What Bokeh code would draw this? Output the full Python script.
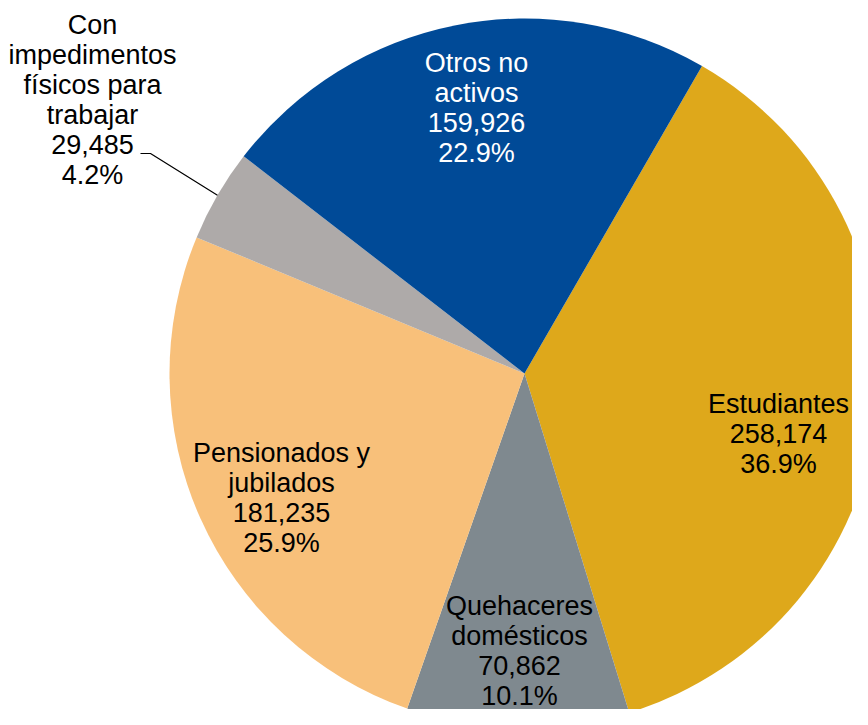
import math
from bokeh.plotting import figure
from bokeh.models import Range1d, ColumnDataSource
from bokeh.core.properties import value
from bokeh.embed import file_html
from bokeh.resources import INLINE

# ---- data ----
categories = ["Estudiantes", "Quehaceres\ndomésticos", "Pensionados y\njubilados",
              "Con\nimpedimentos\nfísicos para\ntrabajar", "Otros no\nactivos"]
values = [258174, 70862, 181235, 29485, 159926]
colors = ["#DEA81B", "#7F898F", "#F8C07A", "#AEAAA9", "#004A97"]
text_colors = ["black", "black", "black", "black", "white"]

# ---- layout ----
W, H = 852, 709
CX, CY = 524, 373          # pie centre in pixels from top-left
R = 355
START = 30.0               # first boundary, degrees clockwise from top
# label centres, pixel offsets from pie centre (x right, y up)
label_dx = [254, -5, -243, -432, -48]
label_dy = [-60, -277, -124, 274, 266]
FONT = "Liberation Sans"
FS = "27px"

total = sum(values)
fracs = [v / total for v in values]
starts, ends, mids = [], [], []
a = START
for f in fracs:
    b = a + f * 360.0
    starts.append(math.radians(90 - b))
    ends.append(math.radians(90 - a))
    mids.append((a + b) / 2)
    a = b

p = figure(width=W, height=H, output_backend="svg", toolbar_location=None,
           x_range=Range1d(-CX, W - CX), y_range=Range1d(CY - H, CY),
           min_border=0)
p.axis.visible = False
p.grid.visible = False
p.outline_line_color = None
p.background_fill_color = "white"

src = ColumnDataSource(dict(start=starts, end=ends, color=colors))
p.wedge(x=0, y=0, radius=R, radius_units="screen", start_angle="start", end_angle="end",
        direction="anticlock", fill_color="color", line_color=None, source=src)

labels = [f"{c}\n{v:,}\n{f*100:.1f}%" for c, v, f in zip(categories, values, fracs)]
lsrc = ColumnDataSource(dict(x=label_dx, y=label_dy, text=labels, color=text_colors))
p.text(x="x", y="y", text="text", source=lsrc, text_color="color",
       text_font=value(FONT), text_font_size=FS, text_align="center",
       text_baseline="middle", text_line_height=1.0)

# leader line for the small slice
i = 3
m = math.radians(mids[i])
ex, ey = R * math.sin(m), R * math.cos(m)
p.line(x=[-384, -374, ex], y=[220, 220, ey], line_color="black", line_width=1.2)

open("out.html", "w").write(file_html(p, INLINE))
